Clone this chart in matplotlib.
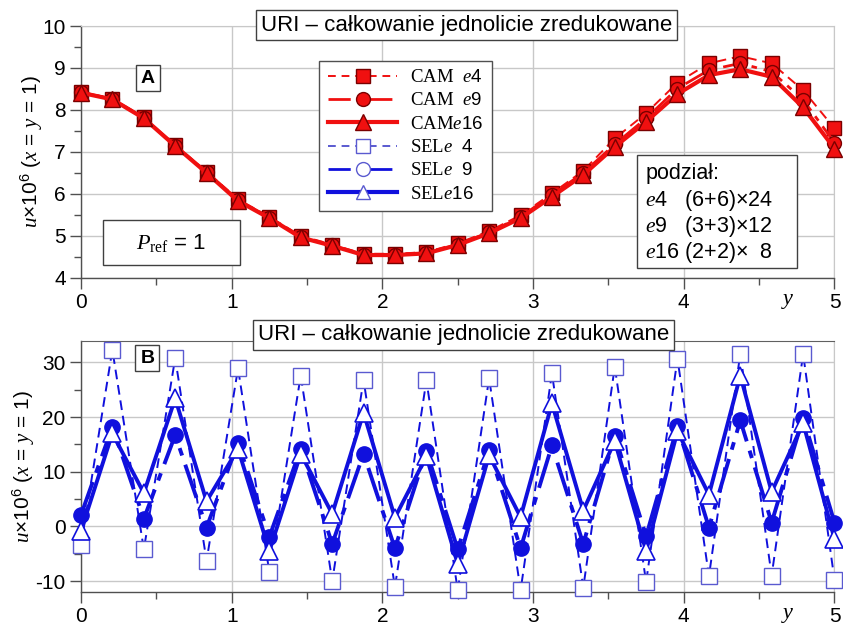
import matplotlib
matplotlib.use("Agg")
import matplotlib.pyplot as plt
from matplotlib.lines import Line2D
from matplotlib.patches import Rectangle
from matplotlib.ticker import MultipleLocator

plt.rcParams["font.family"] = ["Liberation Sans", "DejaVu Sans"]
plt.rcParams["mathtext.fontset"] = "custom"
plt.rcParams["mathtext.rm"] = "Liberation Serif"
plt.rcParams["mathtext.it"] = "Liberation Serif:italic"
plt.rcParams["mathtext.sf"] = "Liberation Sans"
plt.rcParams["mathtext.bf"] = "Liberation Sans:bold"
plt.rcParams["axes.unicode_minus"] = False

# sample positions along the diagonal line (coordinate y)
y_pos = [0.0, 0.208, 0.417, 0.625, 0.833, 1.042, 1.25, 1.458, 1.667, 1.875,
         2.083, 2.292, 2.5, 2.708, 2.917, 3.125, 3.333, 3.542, 3.75, 3.958,
         4.167, 4.375, 4.583, 4.792, 5.0]

# CAM elements (panel A)
cam_e4 = [8.43, 8.27, 7.82, 7.16, 6.53, 5.87, 5.45, 5.00, 4.79, 4.57, 4.57, 4.61,
          4.82, 5.11, 5.49, 6.01, 6.55, 7.32, 7.92, 8.65, 9.11, 9.28, 9.11, 8.47, 7.56]
cam_e9 = [8.42, 8.26, 7.81, 7.15, 6.51, 5.85, 5.43, 4.97, 4.77, 4.55, 4.55, 4.59,
          4.79, 5.08, 5.45, 5.97, 6.50, 7.18, 7.80, 8.51, 8.95, 9.11, 8.91, 8.24, 7.22]
cam_e16 = [8.41, 8.25, 7.80, 7.14, 6.50, 5.83, 5.42, 4.96, 4.76, 4.54, 4.54, 4.58,
           4.78, 5.06, 5.42, 5.93, 6.45, 7.12, 7.72, 8.38, 8.83, 8.97, 8.79, 8.06, 7.08]

# SEL elements (panel B)
sel_e4 = [-3.4, 32.3, -4.2, 30.8, -6.3, 28.9, -8.4, 27.6, -10.0, 26.8, -11.1, 26.7,
          -11.7, 27.1, -11.7, 28.0, -11.2, 29.2, -10.2, 30.7, -9.1, 31.6, -9.0, 31.5, -9.8]
sel_e9 = [2.1, 18.2, 1.4, 16.7, -0.2, 15.3, -1.9, 14.2, -3.2, 13.3, -4.0, 13.8,
          -4.2, 13.9, -4.0, 14.8, -3.2, 16.6, -1.8, 18.3, -0.2, 19.4, 0.7, 19.9, 0.7]
sel_e16 = [-0.8, 17.0, 6.1, 23.4, 4.6, 14.2, -4.5, 13.3, 2.3, 20.8, 1.6, 12.8,
           -6.9, 13.0, 1.7, 22.5, 2.9, 15.6, -4.5, 17.4, 5.8, 27.6, 6.3, 18.9, -2.3]

legend_labels = [r"CAM  $\mathit{e}\mathsf{4}$", r"CAM  $\mathit{e}\mathsf{9}$",
                 r"CAM$\mathit{e}\mathsf{16}$", r"SEL$\mathit{e}$  $\mathsf{4}$",
                 r"SEL$\mathit{e}$  $\mathsf{9}$", r"SEL$\mathit{e}\mathsf{16}$"]
title_text = "URI – całkowanie jednolicie zredukowane"
ylabel_text = r"$\mathit{u}$×10$^{\mathsf{6}}$ ($\mathit{x}$ = $\mathit{y}$ = 1)"
mesh_rows = [r"$\mathit{e}$4   (6+6)×24", r"$\mathit{e}$9   (3+3)×12",
             r"$\mathit{e}$16 (2+2)×  8"]

RED = "#f01010"
DRED = "#7a0000"
BLUE = "#1010dd"
LBLUE = "#5a5ad0"
GRID = "#c8c8c8"
TICK_FS = 15

fig = plt.figure(figsize=(8.43, 6.27), dpi=100)
axA = fig.add_axes([0.0961, 0.5571, 0.8938, 0.4014])
axB = fig.add_axes([0.0961, 0.0558, 0.8938, 0.4011])


def style_axes(ax, ylim, ymaj, ymin, title_pos, label_x, top_color):
    ax.set_xlim(0, 5)
    ax.set_ylim(*ylim)
    ax.xaxis.set_major_locator(MultipleLocator(1))
    ax.xaxis.set_minor_locator(MultipleLocator(0.5))
    ax.yaxis.set_major_locator(MultipleLocator(ymaj))
    ax.yaxis.set_minor_locator(MultipleLocator(ymin))
    ax.grid(True, which="major", color=GRID, lw=1.0, zorder=0)
    ax.set_axisbelow(True)
    for s in ("left", "bottom"):
        ax.spines[s].set_color("#505050")
        ax.spines[s].set_linewidth(1.0)
    ax.spines["right"].set_color(GRID)
    ax.spines["top"].set_color(top_color)
    ax.tick_params(which="major", direction="out", length=8, width=1.0,
                   color="#505050", labelsize=TICK_FS, pad=3)
    ax.tick_params(which="minor", direction="out", length=5, width=1.0,
                   color="#505050")
    ax.tick_params(axis="x", which="both", top=False)
    ax.tick_params(axis="y", which="both", right=False)
    ax.set_ylabel(ylabel_text, fontsize=15)
    ax.yaxis.set_label_coords(label_x, 0.5)
    ax.text(4.69, -0.085, "y", transform=ax.get_xaxis_transform(),
            fontsize=16, fontfamily="Liberation Serif", fontstyle="italic",
            ha="center", va="center")
    ax.text(*title_pos, title_text, transform=ax.transAxes, fontsize=16,
            ha="center", va="center", zorder=10,
            bbox=dict(boxstyle="square,pad=0.22", fc="white", ec="#404040", lw=1.0))


style_axes(axA, (4, 10), 1, 0.5, (0.512, 1.004), -0.048, GRID)
style_axes(axB, (-12, 34), 10, 5, (0.508, 1.022), -0.058, "#606060")

# panel A: CAM series
axA.plot(y_pos, cam_e4, ls=(0, (5, 3)), lw=1.4, color=RED, marker="s", ms=10,
         mfc=RED, mec=DRED, mew=1.0, zorder=3, clip_on=False)
axA.plot(y_pos, cam_e9, ls=(0, (8, 2.5, 2, 2.5)), lw=2.0, color=RED, marker="o", ms=10,
         mfc=RED, mec=DRED, mew=1.0, zorder=4, clip_on=False)
axA.plot(y_pos, cam_e16, ls="-", lw=3.0, color=RED, marker="^", ms=11,
         mfc=RED, mec=DRED, mew=1.0, zorder=5, clip_on=False)

# panel B: SEL series
axB.plot(y_pos, sel_e4, ls=(0, (5, 3)), lw=1.4, color=BLUE, marker="s", ms=11,
         mfc="white", mec=LBLUE, mew=1.0, zorder=3, clip_on=False)
axB.plot(y_pos, sel_e9, ls=(0, (9, 2.5, 2, 2.5)), lw=2.8, color=BLUE, marker="o", ms=11,
         mfc=BLUE, mec=BLUE, mew=1.0, zorder=4, clip_on=False)
axB.plot(y_pos, sel_e16, ls="-", lw=2.8, color=BLUE, marker="^", ms=13,
         mfc="white", mec=BLUE, mew=1.2, zorder=5, clip_on=False)

# legend (panel A)
handles = [
    Line2D([], [], ls=(0, (4, 3)), lw=1.4, color=RED, marker="s", ms=10, mfc=RED, mec=DRED),
    Line2D([], [], ls=(0, (8, 2.5, 2, 2.5)), lw=2.0, color=RED, marker="o", ms=10, mfc=RED, mec=DRED),
    Line2D([], [], ls="-", lw=3.0, color=RED, marker="^", ms=11, mfc=RED, mec=DRED),
    Line2D([], [], ls=(0, (4, 3)), lw=1.4, color=LBLUE, marker="s", ms=10, mfc="white", mec=LBLUE),
    Line2D([], [], ls=(0, (8, 2.5, 2, 2.5)), lw=2.0, color=BLUE, marker="o", ms=10, mfc="white", mec=LBLUE),
    Line2D([], [], ls="-", lw=3.0, color=BLUE, marker="^", ms=10, mfc="white", mec=LBLUE),
]
leg = axA.legend(handles, legend_labels, loc="upper left", bbox_to_anchor=(0.304, 0.9),
                 prop={"family": "Liberation Serif", "size": 13.5}, handlelength=3.7,
                 labelspacing=0.33, borderpad=0.45, handletextpad=0.7,
                 fancybox=False, framealpha=1.0, edgecolor="#505050")
leg.get_frame().set_linewidth(1.0)
leg.set_zorder(10)

# panel labels
for ax, lab, pos in ((axA, "A", (0.089, 0.793)), (axB, "B", (0.088, 0.930))):
    ax.text(*pos, lab, transform=ax.transAxes, fontsize=14, fontweight="bold",
            ha="center", va="center", zorder=10,
            bbox=dict(boxstyle="square,pad=0.25", fc="white", ec="#404040", lw=1.0))

# reference load box
axA.add_patch(Rectangle((0.0292, 0.050), 0.182, 0.179, transform=axA.transAxes,
                        fc="white", ec="#404040", lw=1.0, zorder=9))
axA.text(0.119, 0.138, r"$\mathit{P}_{\mathrm{ref}}$ = 1", transform=axA.transAxes,
         fontsize=16, ha="center", va="center", zorder=10)

# mesh subdivision box
axA.add_patch(Rectangle((0.738, 0.0385), 0.212, 0.449, transform=axA.transAxes,
                        fc="white", ec="#404040", lw=1.0, zorder=9))
axA.text(0.749, 0.415, "podział:", transform=axA.transAxes, fontsize=15.5,
         ha="left", va="center", zorder=10)
for row, yy in zip(mesh_rows, (0.305, 0.205, 0.100)):
    axA.text(0.749, yy, row, transform=axA.transAxes, fontsize=15.5,
             ha="left", va="center", zorder=10)

fig.savefig("out.png", dpi=100)
